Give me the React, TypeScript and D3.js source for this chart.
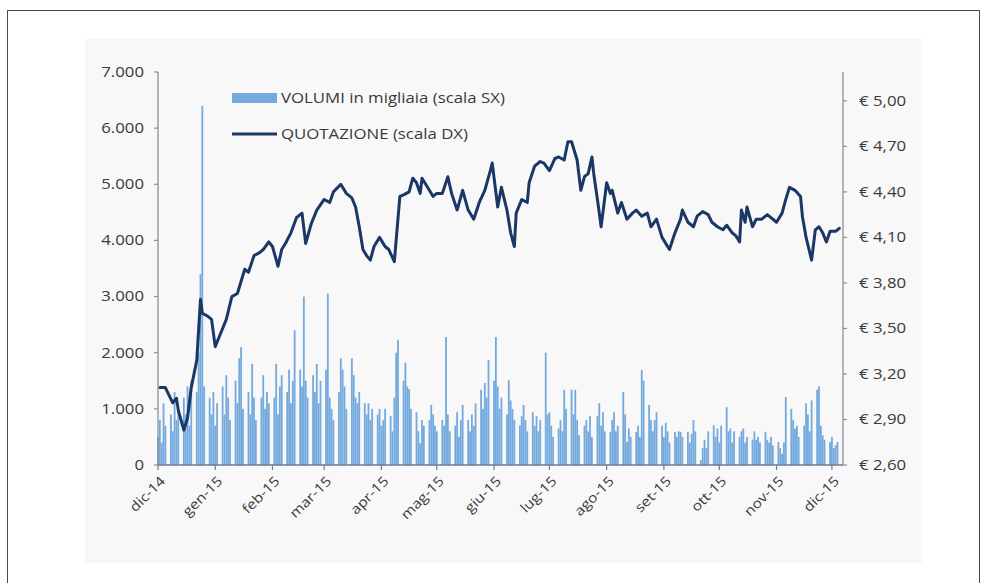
import React from "react";
import * as d3 from "d3";

const monthLabels = ["dic-14", "gen-15", "feb-15", "mar-15", "apr-15", "mag-15", "giu-15", "lug-15", "ago-15", "set-15", "ott-15", "nov-15", "dic-15"];
const leftTicks = [0, 1000, 2000, 3000, 4000, 5000, 6000, 7000];
const rightTicks = [2.6, 2.9, 3.2, 3.5, 3.8, 4.1, 4.4, 4.7, 5.0];
const legendLabels = ["VOLUMI in migliaia (scala SX)", "QUOTAZIONE (scala DX)"];

const priceDates = [
  "2014-12-02", "2014-12-05", "2014-12-09", "2014-12-11", "2014-12-12", "2014-12-15", "2014-12-17", "2014-12-19", "2014-12-22", "2014-12-24",
  "2014-12-25", "2014-12-28", "2014-12-30", "2015-01-01", "2015-01-04", "2015-01-07", "2015-01-10", "2015-01-13", "2015-01-17", "2015-01-19",
  "2015-01-22", "2015-01-25", "2015-01-27", "2015-01-30", "2015-02-01", "2015-02-04", "2015-02-06", "2015-02-08", "2015-02-11", "2015-02-14",
  "2015-02-17", "2015-02-19", "2015-02-22", "2015-02-25", "2015-03-01", "2015-03-04", "2015-03-06", "2015-03-10", "2015-03-13", "2015-03-16",
  "2015-03-18", "2015-03-20", "2015-03-22", "2015-03-24", "2015-03-26", "2015-03-28", "2015-03-31", "2015-04-03", "2015-04-05", "2015-04-08",
  "2015-04-11", "2015-04-13", "2015-04-16", "2015-04-18", "2015-04-20", "2015-04-22", "2015-04-23", "2015-04-26", "2015-04-29", "2015-05-01",
  "2015-05-04", "2015-05-07", "2015-05-09", "2015-05-12", "2015-05-15", "2015-05-18", "2015-05-21", "2015-05-24", "2015-05-27", "2015-05-30",
  "2015-05-31", "2015-06-03", "2015-06-05", "2015-06-08", "2015-06-10", "2015-06-12", "2015-06-13", "2015-06-16", "2015-06-19", "2015-06-20",
  "2015-06-23", "2015-06-26", "2015-06-28", "2015-07-01", "2015-07-04", "2015-07-06", "2015-07-09", "2015-07-11", "2015-07-13", "2015-07-16",
  "2015-07-18", "2015-07-20", "2015-07-22", "2015-07-24", "2015-07-25", "2015-07-27", "2015-07-29", "2015-08-01", "2015-08-03", "2015-08-04",
  "2015-08-07", "2015-08-09", "2015-08-12", "2015-08-15", "2015-08-17", "2015-08-20", "2015-08-23", "2015-08-25", "2015-08-28", "2015-08-31",
  "2015-09-03", "2015-09-04", "2015-09-07", "2015-09-10", "2015-09-11", "2015-09-14", "2015-09-17", "2015-09-19", "2015-09-22", "2015-09-25",
  "2015-09-27", "2015-09-30", "2015-10-03", "2015-10-05", "2015-10-08", "2015-10-10", "2015-10-12", "2015-10-13", "2015-10-15", "2015-10-16",
  "2015-10-19", "2015-10-21", "2015-10-24", "2015-10-27", "2015-10-29", "2015-11-01", "2015-11-04", "2015-11-06", "2015-11-08", "2015-11-11",
  "2015-11-14", "2015-11-15", "2015-11-17", "2015-11-20", "2015-11-22", "2015-11-24", "2015-11-26", "2015-11-28", "2015-11-30", "2015-12-03",
  "2015-12-05",
];
const priceValues = [
  3.11, 3.11, 3.01, 3.04, 2.96, 2.83, 2.91, 3.11, 3.29, 3.69,
  3.6, 3.58, 3.56, 3.38, 3.47, 3.56, 3.71, 3.73, 3.89, 3.87,
  3.98, 4.0, 4.02, 4.07, 4.04, 3.91, 4.02, 4.06, 4.13, 4.23,
  4.26, 4.06, 4.19, 4.28, 4.35, 4.33, 4.4, 4.45, 4.39, 4.36,
  4.3, 4.17, 4.02, 3.98, 3.95, 4.04, 4.1, 4.04, 4.02, 3.94,
  4.37, 4.38, 4.4, 4.49, 4.46, 4.39, 4.49, 4.43, 4.37, 4.39,
  4.39, 4.5, 4.39, 4.28, 4.41, 4.28, 4.22, 4.33, 4.41, 4.54,
  4.59, 4.3, 4.43, 4.28, 4.13, 4.04, 4.26, 4.35, 4.33, 4.46,
  4.57, 4.6, 4.59, 4.54, 4.62, 4.63, 4.61, 4.73, 4.73, 4.61,
  4.41, 4.5, 4.52, 4.63, 4.52, 4.35, 4.17, 4.46, 4.39, 4.41,
  4.26, 4.33, 4.22, 4.26, 4.28, 4.24, 4.26, 4.17, 4.22, 4.1,
  4.04, 4.02, 4.13, 4.22, 4.28, 4.2, 4.17, 4.24, 4.27, 4.25,
  4.2, 4.17, 4.15, 4.18, 4.13, 4.11, 4.07, 4.28, 4.2, 4.3,
  4.17, 4.22, 4.22, 4.25, 4.23, 4.2, 4.26, 4.35, 4.43, 4.41,
  4.37, 4.24, 4.1, 3.95, 4.15, 4.17, 4.13, 4.07, 4.14, 4.14,
  4.16,
];

// daily volumes (thousands), one per weekday from 1 Dec 2014 to 4 Dec 2015
const volumeValues = [
  500, 800, 400, 1100, 700,
  900, 600, 1300, 800, 1000,
  1200, 900, 1400, 700, 1500,
  1300, 2000, 3400, 6400, 1400,
  1200, 900, 1300, 700, 1100,
  1400, 900, 1600, 1200, 800,
  1500, 1100, 1900, 2100, 1000,
  1300, 900, 1800, 1200, 800,
  1200, 1600, 1000, 1300, 1100,
  1200, 1800, 900, 1400, 1600,
  1300, 1700, 1100, 1500, 2400,
  1700, 1400, 3000, 1500, 1200,
  1600, 1300, 1800, 1100, 1500,
  1700, 3050, 1200, 1000, 800,
  1300, 1900, 1700, 1400, 1000,
  1900, 1600, 1200, 1100, 1300,
  1100, 900, 1100, 800, 1000,
  900, 1000, 700, 800, 1000,
  870, 600, 1200, 2000, 2230,
  1500, 1820, 1400, 1350, 1000,
  940, 600, 390, 800, 700,
  800, 1070, 900, 700, 600,
  800, 700, 2280, 900, 600,
  700, 940, 500, 800, 1070,
  800, 600, 900, 700, 1100,
  1340, 1000, 1460, 1200, 1870,
  1500, 2280, 1400, 1000, 1200,
  900, 1510, 1150, 1000, 800,
  700, 870, 1070, 800, 600,
  940, 700, 870, 600, 800,
  2000, 900, 940, 700, 500,
  650, 800, 600, 1340, 1000,
  1340, 900, 1340, 800, 530,
  700, 800, 600, 870, 500,
  870, 1100, 700, 940, 600,
  590, 800, 940, 600, 700,
  1300, 900, 410, 650, 500,
  590, 700, 500, 1690, 1500,
  1070, 800, 600, 800, 940,
  700, 500, 750, 600, 400,
  590, 500, 600, 590, 500,
  590, 400, 550, 800, 600,
  90, 300, 450, 300, 600,
  710, 500, 650, 400, 700,
  1030, 600, 650, 400, 600,
  500, 600, 650, 400, 500,
  450, 600, 450, 500, 400,
  590, 450, 400, 500, 350,
  410, 300, 200, 400, 1210,
  1000, 800, 650, 700, 500,
  700, 1100, 900, 600, 1150,
  1340, 1400, 700, 530, 450,
  410, 500, 300, 350, 410,
];

const W = 987;
const H = 583;
const FONT = "'Open Sans', sans-serif";
const TEXT = "#3a3a3a";
const AXIS = "#8a8f98";
const BAR = "#74a9dd";
const LINE = "#1b3766";
const SX = 1.2;

const itLocale = d3.formatLocale({ decimal: ",", thousands: ".", grouping: [3], currency: ["€ ", ""] });
const fmtLeft = itLocale.format(",.0f");
const fmtRight = itLocale.format("$.2f");

export default function App() {
  const parse = d3.timeParse("%Y-%m-%d");
  const start = new Date(2014, 11, 1);
  const end = new Date(2015, 11, 7);

  const x = d3.scaleTime().domain([start, end]).range([158, 843]);
  const yL = d3.scaleLinear().domain([0, 7000]).range([465, 72]);
  const yR = d3.scaleLinear().domain([2.6, 5.19]).range([465, 72]);

  const weekdays = d3.timeDays(start, new Date(2015, 11, 5)).filter((d) => d.getDay() > 0 && d.getDay() < 6);
  const bars = weekdays.slice(0, volumeValues.length).map((d, i) => ({ d, v: volumeValues[i] }));
  const price = priceDates.map((s, i) => ({ d: parse(s) as Date, v: priceValues[i] }));

  const line = d3
    .line<{ d: Date; v: number }>()
    .x((p) => x(p.d))
    .y((p) => yR(p.v));

  const months = d3.timeMonth.range(start, new Date(2015, 11, 2));
  const bw = 1.8;

  return (
    <svg width={W} height={H} style={{ position: "absolute", left: 0, top: 0, background: "#fff" }} fontFamily={FONT}>
      <rect x={7.5} y={10.5} width={972} height={620} fill="#fff" stroke="#4a4a4a" strokeWidth={1} />
      <rect x={85} y={39} width={837} height={524} fill="#f8f8f8" />

      {/* volume bars */}
      <g>
        {bars.map((b, i) => (
          <rect key={i} x={x(b.d) - bw / 2} y={yL(b.v)} width={bw} height={yL(0) - yL(b.v)} fill={BAR} />
        ))}
      </g>

      {/* price line */}
      <path d={line(price) || ""} fill="none" stroke={LINE} strokeWidth={3} strokeLinejoin="round" strokeLinecap="round" />

      {/* left axis */}
      <line x1={158} x2={158} y1={yL(7000)} y2={yL(0)} stroke={AXIS} strokeWidth={1.3} />
      {leftTicks.map((t) => (
        <g key={t}>
          <line x1={154} x2={158} y1={yL(t)} y2={yL(t)} stroke={AXIS} strokeWidth={1.2} />
          <text transform={`translate(144,${yL(t)}) scale(${SX},1)`} dy="0.35em" textAnchor="end" fontSize={14} fill={TEXT}>
            {fmtLeft(t)}
          </text>
        </g>
      ))}

      {/* right axis */}
      <line x1={843} x2={843} y1={yR(5.19)} y2={yR(2.6)} stroke={AXIS} strokeWidth={1.3} />
      {rightTicks.map((t) => (
        <g key={t}>
          <line x1={843} x2={847} y1={yR(t)} y2={yR(t)} stroke={AXIS} strokeWidth={1.2} />
          <text transform={`translate(859,${yR(t)}) scale(${SX},1)`} dy="0.35em" textAnchor="start" fontSize={14} fill={TEXT}>
            {fmtRight(t)}
          </text>
        </g>
      ))}

      {/* bottom axis */}
      <line x1={158} x2={843} y1={465} y2={465} stroke="#6f7c8e" strokeWidth={1.6} />
      {months.map((m, i) => (
        <g key={i}>
          <line x1={x(m)} x2={x(m)} y1={465} y2={470} stroke="#6f7c8e" strokeWidth={1.2} />
          <text
            transform={`translate(${x(m) + 8},${482}) rotate(-45) scale(1.15,1)`}
            textAnchor="end"
            fontSize={13.5}
            fill={TEXT}
          >
            {monthLabels[i]}
          </text>
        </g>
      ))}

      {/* legend */}
      <rect x={232} y={93} width={45} height={10} fill={BAR} />
      <text transform={`translate(281,98) scale(${SX},1)`} dy="0.35em" fontSize={14} fill={TEXT}>
        {legendLabels[0]}
      </text>
      <line x1={232} x2={277} y1={134} y2={134} stroke={LINE} strokeWidth={3} />
      <text transform={`translate(281,134) scale(${SX},1)`} dy="0.35em" fontSize={14} fill={TEXT}>
        {legendLabels[1]}
      </text>
    </svg>
  );
}
